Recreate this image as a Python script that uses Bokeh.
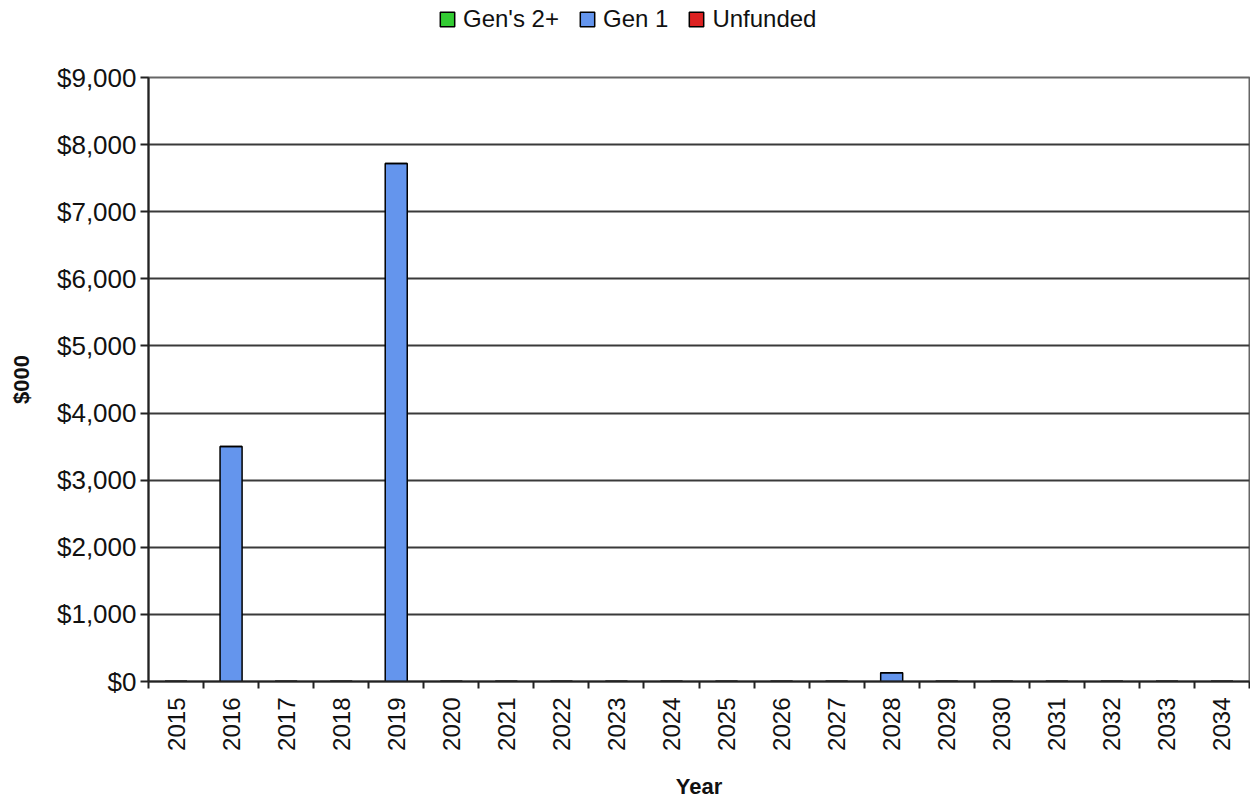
from bokeh.plotting import figure
from bokeh.layouts import column
from bokeh.models import (ColumnDataSource, Range1d, FixedTicker, NumeralTickFormatter,
                          Legend, LegendItem)
from bokeh.embed import file_html
from bokeh.resources import INLINE
from math import pi

years = ["2015", "2016", "2017", "2018", "2019", "2020", "2021", "2022", "2023", "2024",
         "2025", "2026", "2027", "2028", "2029", "2030", "2031", "2032", "2033", "2034"]
gen2 = [0, 0, 0, 0, 0, 0, 0, 0, 0, 0, 0, 0, 0, 0, 0, 0, 0, 0, 0, 0]
gen1 = [0, 3500, 0, 0, 7720, 0, 0, 0, 0, 0, 0, 0, 0, 130, 0, 0, 0, 0, 0, 0]
unfunded = [0, 0, 0, 0, 0, 0, 0, 0, 0, 0, 0, 0, 0, 0, 0, 0, 0, 0, 0, 0]
series_names = ["Gen's 2+", "Gen 1", "Unfunded"]
series_colors = ["#33CC33", "#6495ED", "#DD2222"]
y_ticks = [0, 1000, 2000, 3000, 4000, 5000, 6000, 7000, 8000, 9000]

n = len(years)
xs = [i + 0.5 for i in range(n)]
boundaries = list(range(n + 1))

source = ColumnDataSource(dict(x=xs, gen2=gen2, gen1=gen1, unfunded=unfunded))
stack_cols = ["gen2", "gen1", "unfunded"]

FONT = "Liberation Sans"
LEG_H = 40

# ---- main chart ----
p = figure(width=1250, height=801 - LEG_H, output_backend="svg", toolbar_location=None,
           x_range=Range1d(0, n), y_range=Range1d(0, 9000),
           min_border_left=148, min_border_top=77 - LEG_H, min_border_right=1, min_border_bottom=120)

renderers = p.vbar_stack(stack_cols, x="x", width=0.4, source=source,
                         fill_color=series_colors, line_color="black", line_width=1.5)

p.yaxis.ticker = FixedTicker(ticks=y_ticks)
p.yaxis.formatter = NumeralTickFormatter(format="$0,0")
p.yaxis.major_tick_out = 8
p.yaxis.major_tick_in = 0
p.yaxis.minor_tick_out = 0
p.yaxis.minor_tick_in = 0
p.yaxis.major_label_standoff = 4
p.yaxis.major_label_text_font = FONT
p.yaxis.major_label_text_font_size = "26px"
p.yaxis.major_label_text_color = "#111111"
p.yaxis.axis_line_color = "#222222"
p.yaxis.axis_line_width = 2
p.yaxis.major_tick_line_color = "#222222"
p.yaxis.major_tick_line_width = 2
p.yaxis.axis_label = "$000"
p.yaxis.axis_label_text_font = FONT
p.yaxis.axis_label_text_font_style = "bold"
p.yaxis.axis_label_text_font_size = "22px"
p.yaxis.axis_label_text_color = "#111111"
p.yaxis.axis_label_standoff = 20

p.xaxis.ticker = FixedTicker(ticks=xs, minor_ticks=boundaries)
p.xaxis.major_label_overrides = {x: y for x, y in zip(xs, years)}
p.xaxis.major_tick_out = 0
p.xaxis.major_tick_in = 0
p.xaxis.minor_tick_out = 7
p.xaxis.minor_tick_in = 0
p.xaxis.minor_tick_line_color = "#222222"
p.xaxis.minor_tick_line_width = 2
p.xaxis.major_label_orientation = pi / 2
p.xaxis.major_label_standoff = 9
p.xaxis.major_label_text_font = FONT
p.xaxis.major_label_text_font_size = "24px"
p.xaxis.major_label_text_color = "#111111"
p.xaxis.axis_line_color = "#222222"
p.xaxis.axis_line_width = 2
p.xaxis.axis_label = "Year"
p.xaxis.axis_label_text_font = FONT
p.xaxis.axis_label_text_font_style = "bold"
p.xaxis.axis_label_text_font_size = "22px"
p.xaxis.axis_label_text_color = "#111111"
p.xaxis.axis_label_standoff = 20

p.xgrid.grid_line_color = None
p.ygrid.grid_line_color = "#3a3a3a"
p.ygrid.grid_line_width = 2
p.ygrid.ticker = FixedTicker(ticks=y_ticks)

p.outline_line_color = "#666666"
p.outline_line_width = 2

# ---- legend strip: same stacked series (hidden), only its legend is shown ----
lg = figure(width=1250, height=LEG_H, output_backend="svg", toolbar_location=None,
            x_range=Range1d(0, n), y_range=Range1d(0, 9000), title=None,
            x_axis_type=None, y_axis_type=None, min_border=0)
lg.grid.grid_line_color = None
lg.outline_line_color = None
leg_renderers = lg.vbar_stack(stack_cols, x="x", width=0.4, source=source,
                              fill_color=series_colors, line_color="black", line_width=1.5)
for r in leg_renderers:
    r.visible = False
legend = Legend(items=[LegendItem(label=nm, renderers=[r]) for nm, r in zip(series_names, leg_renderers)],
                orientation="horizontal", location=(290, 7),
                glyph_width=18, glyph_height=18, label_standoff=7, spacing=19,
                padding=0, margin=0, border_line_alpha=0, background_fill_alpha=0,
                inactive_fill_alpha=0,
                label_text_font=FONT, label_text_font_size="24px", label_text_color="#111111")
lg.add_layout(legend, "center")

layout = column(lg, p, spacing=0)
open("out.html", "w").write(file_html(layout, INLINE))
